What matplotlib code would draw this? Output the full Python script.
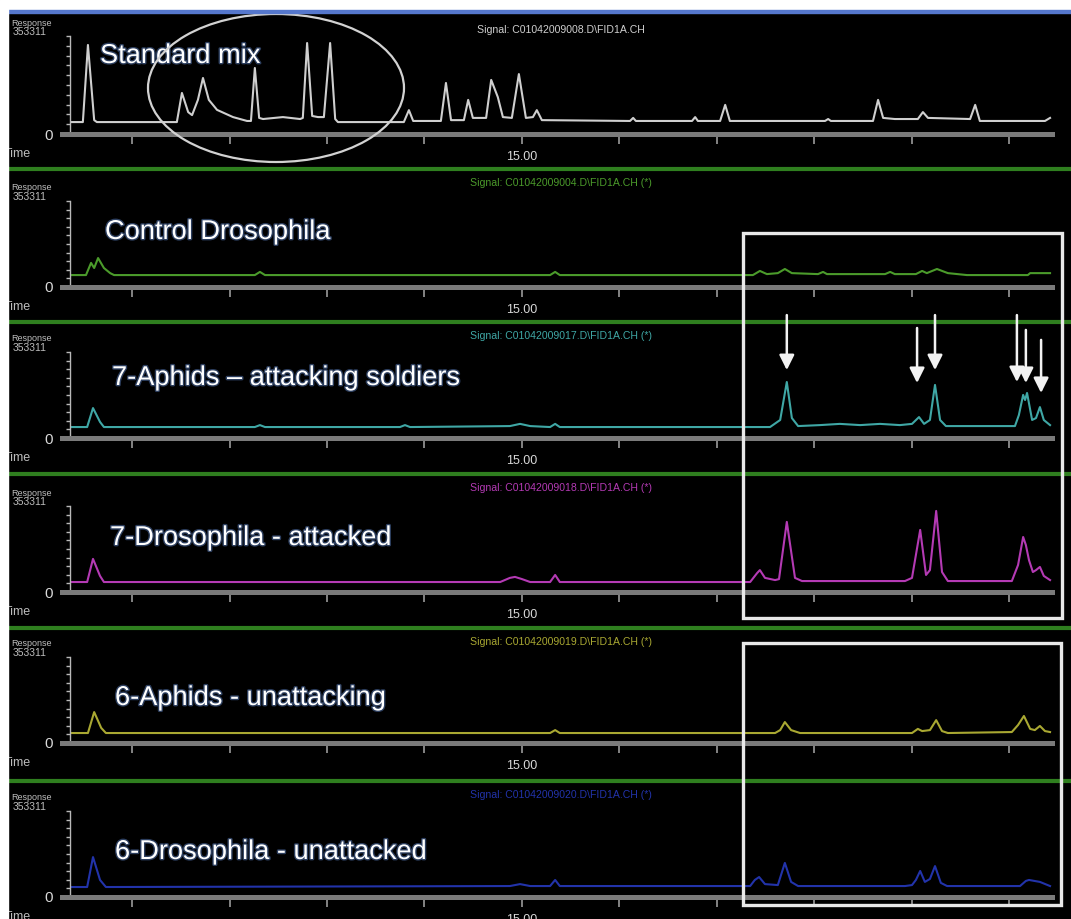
import numpy as np
import matplotlib.pyplot as plt
import matplotlib.patheffects as pe
from matplotlib.patches import Rectangle, Ellipse
from matplotlib.lines import Line2D

W, H = 1071, 919
plt.rcParams["font.family"] = ["Liberation Sans", "DejaVu Sans"]

# retention time (min) and FID response (thousand counts) along each trace
std_t = [3.46, 3.74, 3.87, 4.03, 4.10, 6.15, 6.28, 6.44, 6.54, 6.69, 6.82, 6.97, 7.18, 7.59, 7.95,
         8.05, 8.15, 8.26, 8.36, 8.87, 9.31, 9.38, 9.49, 9.62, 9.77, 9.92, 10.08, 10.21, 10.28, 11.97,
         12.10, 12.21, 12.92, 13.05, 13.18, 13.51, 13.62, 13.74, 14.08, 14.21, 14.38, 14.51, 14.74, 14.92,
         15.10, 15.28, 15.38, 15.51, 17.77, 17.85, 17.92, 19.36, 19.44, 19.51, 20.08, 20.21, 20.33, 22.77,
         22.85, 22.92, 24.00, 24.13, 24.26, 24.56, 25.15, 25.28, 25.41, 26.49, 26.62, 26.74, 28.41, 28.54]
std_r = [43, 43, 321, 50, 43, 43, 148, 79, 68, 123, 202, 123, 87, 61, 47,
         47, 238, 58, 54, 61, 54, 58, 328, 65, 61, 61, 328, 54, 43, 43,
         86, 47, 47, 184, 50, 50, 123, 58, 58, 195, 133, 61, 58, 216,
         58, 61, 86, 50, 47, 58, 47, 47, 61, 47, 47, 105, 47, 47,
         54, 47, 47, 123, 58, 54, 54, 79, 58, 54, 105, 47, 47, 58]

ctrl_t = [3.46, 3.82, 3.95, 4.03, 4.13, 4.28, 4.44, 4.54, 8.15, 8.28, 8.41, 15.72, 15.85, 15.97,
          20.92, 21.10, 21.28, 21.56, 21.74, 21.92, 22.59, 22.72, 22.82, 24.31, 24.44, 24.56,
          25.10, 25.26, 25.38, 25.64, 25.92, 26.41, 27.97, 28.03, 28.54]
ctrl_r = [49, 49, 99, 78, 119, 78, 57, 49, 49, 62, 49, 49, 62, 49,
          49, 66, 53, 57, 74, 57, 53, 62, 53, 53, 62, 53,
          53, 66, 57, 74, 57, 49, 49, 57, 57]

aph7_t = [3.46, 3.85, 4.00, 4.18, 4.28, 8.15, 8.28, 8.41, 11.87, 12.00, 12.13, 14.69, 14.95, 15.21,
          15.72, 15.85, 15.97, 21.36, 21.62, 21.79, 21.92, 22.08, 22.64, 23.15, 23.67, 24.18, 24.69,
          25.00, 25.18, 25.31, 25.46, 25.59, 25.72, 25.87, 27.64, 27.74, 27.85, 27.90, 27.95,
          28.08, 28.18, 28.28, 28.38, 28.54]
aph7_r = [45, 45, 123, 66, 45, 45, 53, 45, 45, 53, 45, 49, 58, 49,
          45, 58, 45, 45, 74, 230, 82, 49, 53, 58, 53, 58, 53,
          58, 86, 58, 74, 218, 74, 49, 49, 94, 177, 156, 185,
          74, 82, 127, 74, 53]

dro7_t = [3.46, 3.85, 4.00, 4.18, 4.28, 14.44, 14.69, 14.82, 15.00, 15.21, 15.72, 15.85, 15.97,
          20.85, 21.03, 21.10, 21.23, 21.49, 21.59, 21.79, 22.00, 22.18, 24.82, 25.00, 25.21, 25.36,
          25.46, 25.62, 25.77, 25.92, 27.56, 27.72, 27.85, 27.92, 28.00, 28.10, 28.18, 28.28, 28.38, 28.54]
dro7_r = [41, 41, 136, 66, 41, 41, 58, 62, 53, 41, 41, 70, 41,
          41, 78, 90, 58, 49, 53, 288, 58, 45, 45, 58, 255, 70,
          90, 333, 82, 45, 45, 111, 226, 193, 131, 82, 90, 103, 66, 49]

aph6_t = [3.46, 3.87, 4.03, 4.21, 4.33, 15.72, 15.85, 15.97, 21.49, 21.62, 21.74, 21.90, 22.13,
          25.00, 25.15, 25.26, 25.46, 25.62, 25.77, 25.92, 27.56, 27.72, 27.87, 28.03, 28.15, 28.28,
          28.41, 28.54]
aph6_r = [41, 41, 127, 62, 41, 41, 53, 41, 41, 53, 86, 53, 41,
          41, 58, 49, 53, 94, 49, 41, 45, 74, 111, 58, 53, 70,
          49, 45]

dro6_t = [3.46, 3.85, 4.00, 4.18, 4.33, 14.69, 14.95, 15.21, 15.72, 15.85, 15.97, 20.85, 20.97,
          21.08, 21.23, 21.56, 21.74, 21.90, 22.08, 24.82, 25.00, 25.10, 25.21, 25.33, 25.46, 25.59,
          25.74, 25.90, 27.77, 27.92, 28.00, 28.28, 28.54]
dro6_r = [41, 41, 164, 70, 41, 45, 53, 45, 45, 70, 45, 45, 70,
          82, 53, 49, 140, 62, 45, 45, 49, 70, 107, 62, 74, 127,
          58, 45, 45, 66, 70, 62, 45]

# peaks marked with arrows on the attacking-aphid run (thousand counts)
arrow_t = [21.79, 25.13, 25.59, 27.69, 27.92, 28.31]
arrow_tip = [279, 226, 279, 230, 226, 185]
arrow_tail = [505, 452, 505, 505, 444, 403]

sample_names = ["Standard mix", "Control Drosophila", "7-Aphids \u2013 attacking soldiers",
                "7-Drosophila - attacked", "6-Aphids - unattacking", "6-Drosophila - unattacked"]
signal_titles = [r"Signal: C01042009008.D\FID1A.CH", r"Signal: C01042009004.D\FID1A.CH (*)",
                 r"Signal: C01042009017.D\FID1A.CH (*)", r"Signal: C01042009018.D\FID1A.CH (*)",
                 r"Signal: C01042009019.D\FID1A.CH (*)", r"Signal: C01042009020.D\FID1A.CH (*)"]
traces = [(std_t, std_r), (ctrl_t, ctrl_r), (aph7_t, aph7_r),
          (dro7_t, dro7_r), (aph6_t, aph6_r), (dro6_t, dro6_r)]
trace_colors = ["#cfcfcf", "#4b9b2b", "#3fa7a5", "#b43ab4", "#a9a832", "#2233aa"]

Y_MAX = 353311
T_LEFT, T_RIGHT = 3.205, 28.59
T_YAXIS = 3.41

# panel layout in pixels (from the top of the figure)
axis_px = [134, 287, 438, 592, 743, 897]
ytop_px = [36, 201, 352, 506, 657, 811]
title_px = [30, 183, 336, 488, 642, 795]
sep_px = [169, 322, 474, 628, 781]
name_x = [100, 105, 112, 110, 115, 115]
name_base = [63, 239, 385, 545, 705, 859]


def fx(px):
    return px / W


def fy(py):
    return 1 - py / H


fig = plt.figure(figsize=(W / 100, H / 100), dpi=100, facecolor="black")

axes = []
for i, (t, r) in enumerate(traces):
    ax = fig.add_axes([fx(62), fy(axis_px[i]), (1052 - 62) / W, (axis_px[i] - ytop_px[i]) / H])
    ax.set_facecolor("none")
    ax.set_xlim(T_LEFT, T_RIGHT)
    ax.set_ylim(0, Y_MAX)
    ax.plot(t, np.array(r) * 1000, color=trace_colors[i], lw=1.5, clip_on=False)

    ax.spines["top"].set_visible(False)
    ax.spines["right"].set_visible(False)
    ax.spines["bottom"].set_color("#7a7a7a")
    ax.spines["bottom"].set_linewidth(3.6)
    ax.spines["left"].set_position(("data", T_YAXIS))
    ax.spines["left"].set_bounds(0, Y_MAX)
    ax.spines["left"].set_color("#b8b8b8")
    ax.spines["left"].set_linewidth(1.0)

    xt = np.arange(5, 28, 2.5)
    ax.set_xticks(xt)
    ax.set_xticklabels(["15.00" if v == 15 else "" for v in xt])
    ax.tick_params(axis="x", direction="out", length=7, width=1.2, color="#9a9a9a",
                   labelcolor="#d8d8d8", labelsize=9, pad=5)
    yt = np.linspace(0, Y_MAX, 11)
    ax.set_yticks(yt)
    ax.set_yticklabels(["0"] + [""] * 10)
    ax.tick_params(axis="y", direction="out", length=3, width=1, color="#b8b8b8",
                   labelcolor="#d8d8d8", labelsize=11, pad=9)

    fig.text(fx(561), fy(title_px[i]), signal_titles[i], color=trace_colors[i],
             fontsize=7.6, ha="center", va="center")
    fig.text(fx(11), fy(ytop_px[i] - 13), "Response", color="#bdbdbd", fontsize=6.5, va="center")
    fig.text(fx(13), fy(ytop_px[i] - 4), str(Y_MAX), color="#bdbdbd", fontsize=7.5, va="center")
    fig.text(fx(31), fy(axis_px[i] + 20), "Time", color="#bdbdbd", fontsize=9, ha="right", va="center")

    fig.text(fx(name_x[i]), fy(name_base[i]), sample_names[i], color="white", fontsize=19.6,
             va="baseline", path_effects=[pe.withStroke(linewidth=2, foreground="#2c3e5e")])
    axes.append(ax)

# arrows over the peaks of interest
for t, tip, tail in zip(arrow_t, arrow_tip, arrow_tail):
    axes[2].annotate("", xy=(t, tip * 1000), xytext=(t, tail * 1000), annotation_clip=False,
                     arrowprops=dict(arrowstyle="-|>,head_length=0.9,head_width=0.45",
                                     color="#f2f2f2", lw=1.8, shrinkA=0, shrinkB=0))

# green separators between runs
for y in sep_px:
    fig.add_artist(Line2D([fx(8), 1], [fy(y), fy(y)], color="#2f7f1f", lw=3, zorder=-1))

# highlight boxes and ellipse
box_style = dict(fill=False, edgecolor="#e8e8e8", lw=2.4, transform=fig.transFigure, zorder=6)
fig.add_artist(Rectangle((fx(743), fy(618)), (1062 - 743) / W, (618 - 233) / H, **box_style))
fig.add_artist(Rectangle((fx(743), fy(905)), (1061 - 743) / W, (905 - 643) / H, **box_style))
fig.add_artist(Ellipse((fx(276), fy(88)), 256 / W, 148 / H, fill=False, edgecolor="#d2d2d2",
                       lw=1.6, transform=fig.transFigure, zorder=6))

# window frame
fig.add_artist(Rectangle((0, fy(10)), 1, 10 / H, color="white", transform=fig.transFigure, zorder=10))
fig.add_artist(Rectangle((0, fy(13)), 1, 3 / H, color="#5577cc", transform=fig.transFigure, zorder=10))
fig.add_artist(Rectangle((0, 0), 8 / W, 1, color="white", transform=fig.transFigure, zorder=10))

fig.savefig("out.png", dpi=100, facecolor="black")
